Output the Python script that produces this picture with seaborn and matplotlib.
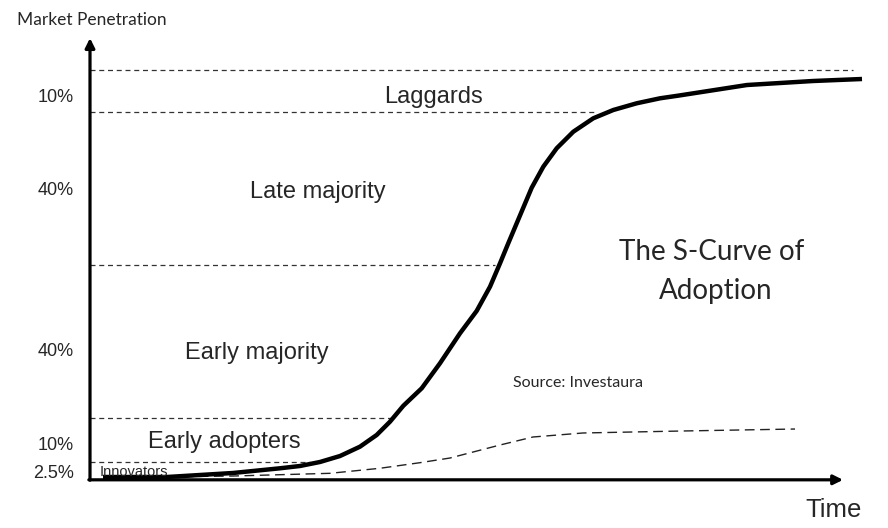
import matplotlib
matplotlib.use("Agg")
import matplotlib.pyplot as plt
import seaborn as sns
import pandas as pd

# ---- data (schematic units: time 0-100, penetration 0-100) ----
curve_time = [1.69, 10.0, 18.57, 24.68, 27.27, 29.87, 32.47, 35.06, 37.23, 38.96,
              40.69, 43.08, 45.45, 48.05, 50.22, 51.95, 53.25, 54.32, 57.36,
              58.87, 60.61, 62.77, 65.36, 67.96, 71.0, 74.03, 76.36, 85.32, 93.9, 100.26]
curve_value = [0.49, 0.49, 1.47, 2.62, 3.18, 4.16, 5.62, 7.90, 10.76, 14.01,
               17.9, 22.18, 28.29, 35.62, 41.1, 47.02, 52.74, 57.63, 71.2,
               76.36, 80.86, 84.91, 88.19, 90.22, 91.86, 93.08, 93.72, 96.33, 97.31, 97.80]
adopt_time = [2.21, 18.57, 31.17, 37.66, 42.86, 46.75, 53.25, 57.53, 64.03, 77.01, 91.56]
adopt_value = [0.37, 0.73, 1.39, 2.62, 3.99, 5.13, 8.31, 10.27, 11.25, 11.74, 12.22]

boundary_level = [4.2, 14.9, 52.3, 89.7, 100.0]
boundary_end = [28.6, 39.2, 52.6, 65.8, 99.1]

segment_names = ["Innovators", "Early adopters", "Early majority", "Late majority", "Laggards"]
segment_shares = ["2.5%", "10%", "40%", "40%", "10%"]

curve_df = pd.DataFrame({"time": curve_time, "value": curve_value})
adopt_df = pd.DataFrame({"time": adopt_time, "value": adopt_value})

sns.set_style("white")
plt.rcParams["font.family"] = ["Liberation Sans", "DejaVu Sans"]

W, H = 888, 528
fig = plt.figure(figsize=(W / 100, H / 100), dpi=100)
# axes: data (0,0) at px (90,479), (100,100) at px (860,70)
ax = fig.add_axes([90 / W, (H - 479) / H, 770 / W, 409 / H])
ax.set_xlim(0, 100)
ax.set_ylim(0, 100)
ax.axis("off")

# dashed boundaries
for lvl, end in zip(boundary_level, boundary_end):
    ax.plot([0, end], [lvl, lvl], color="#333333", lw=0.9, ls=(0, (4, 3)), clip_on=False)

# curves
sns.lineplot(data=adopt_df, x="time", y="value", ax=ax, color="#222222", lw=1.0,
             linestyle=(0, (7, 4)), clip_on=False, estimator=None, sort=False)
sns.lineplot(data=curve_df, x="time", y="value", ax=ax, color="black", lw=3.2,
             clip_on=False, estimator=None, sort=False, solid_capstyle="butt",
             solid_joinstyle="round")

# axis arrows
ax.annotate("", xy=(0, 107.8), xytext=(0, -0.3), xycoords="data",
            arrowprops=dict(arrowstyle="-|>", lw=2.3, color="black", mutation_scale=14,
                            shrinkA=0, shrinkB=0), annotation_clip=False)
ax.annotate("", xy=(97.8, -0.2), xytext=(-0.15, -0.2), xycoords="data",
            arrowprops=dict(arrowstyle="-|>", lw=2.3, color="black", mutation_scale=14,
                            shrinkA=0, shrinkB=0), annotation_clip=False)

# segment labels
ax.text(1.3, 0.73, segment_names[0], fontsize=10.5, ha="left", va="baseline")
ax.text(17.5, 7.6, segment_names[1], fontsize=17, ha="center", va="baseline")
ax.text(21.7, 29.3, segment_names[2], fontsize=17, ha="center", va="baseline")
ax.text(29.6, 68.7, segment_names[3], fontsize=17, ha="center", va="baseline")
ax.text(44.55, 91.9, segment_names[4], fontsize=17, ha="center", va="baseline")

# share labels
share_base = [0.24, 7.1, 30.1, 69.4, 92.2]
for s, yb in zip(segment_shares, share_base):
    ax.text(-2.08, yb, s, fontsize=13, ha="right", va="baseline", clip_on=False)

ax.text(-9.5, 111.0, "Market Penetration", fontsize=12.5, family=["Lato", "DejaVu Sans"],
        ha="left", va="baseline")
ax.text(92.9, -9.3, "Time", fontsize=18.5, ha="left", va="baseline")
ax.text(80.8, 53.5, "The S-Curve of", fontsize=20, family=["Lato", "DejaVu Sans"],
        ha="center", va="baseline")
ax.text(81.3, 44.0, "Adoption", fontsize=20, family=["Lato", "DejaVu Sans"],
        ha="center", va="baseline")
ax.text(54.9, 22.5, "Source: Investaura", fontsize=11.5, family=["Lato", "DejaVu Sans"],
        ha="left", va="baseline")

fig.savefig("out.png", dpi=100)
